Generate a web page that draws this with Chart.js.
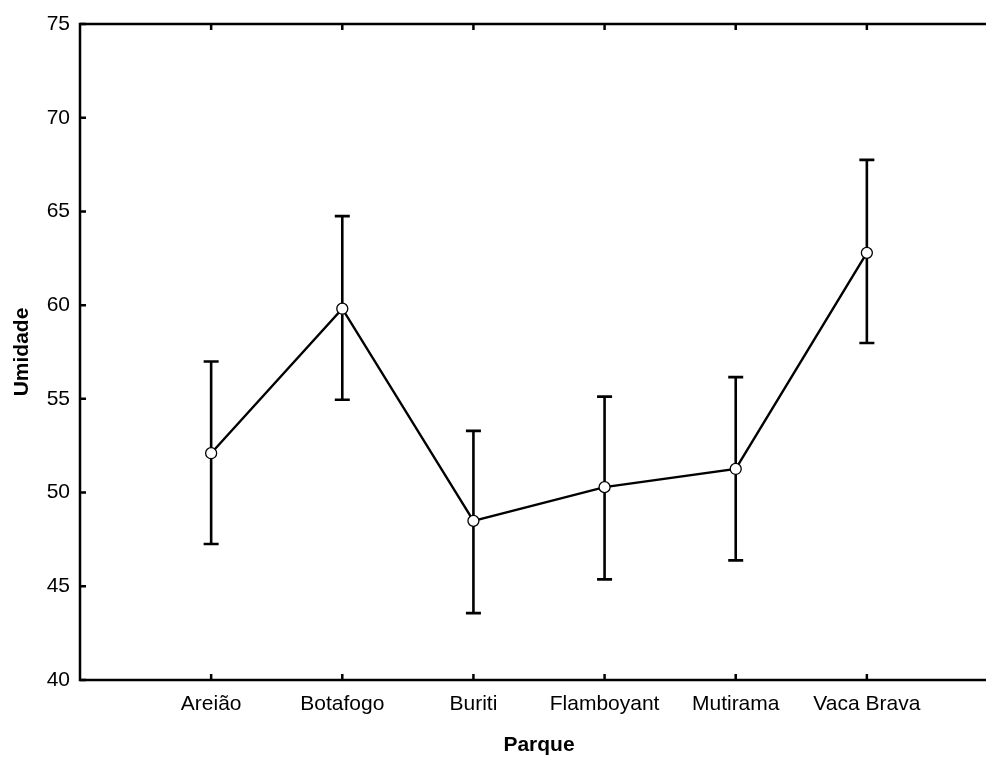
<!DOCTYPE html>
<html><head><meta charset="utf-8">
<script src="https://cdn.jsdelivr.net/npm/chart.js@4"></script>
<style>html,body{margin:0;padding:0;background:#fff;overflow:hidden}#wrap{width:1010px;height:758px}</style>
</head><body><div id="wrap"><canvas id="c" width="1010" height="758"></canvas></div>
<script>
const categories = ['Areião','Botafogo','Buriti','Flamboyant','Mutirama','Vaca Brava'];
const means = [52.10, 59.81, 48.49, 50.29, 51.26, 62.79];
const upper = [56.99, 64.75, 53.29, 55.12, 56.16, 67.75];
const lower = [47.26, 54.95, 43.57, 45.37, 46.38, 57.98];
const yTicks = [40, 45, 50, 55, 60, 65, 70, 75];
const xTitle = 'Parque';
const yTitle = 'Umidade';

const FONT = "'Liberation Sans', Arial, sans-serif";

const framePlugin = {
  id: 'frame',
  beforeDatasetsDraw(chart) {
    const {ctx, chartArea: a, scales: {x, y}} = chart;
    ctx.save();
    ctx.strokeStyle = '#000';
    ctx.lineWidth = 2.5;
    ctx.strokeRect(a.left, a.top, a.right - a.left, a.bottom - a.top);
    ctx.beginPath();
    yTicks.forEach(v => {
      const py = y.getPixelForValue(v);
      ctx.moveTo(a.left, py); ctx.lineTo(a.left + 6, py);
      ctx.moveTo(a.right, py); ctx.lineTo(a.right - 6, py);
    });
    categories.forEach((c, i) => {
      const px = x.getPixelForValue(i + 1);
      ctx.moveTo(px, a.bottom); ctx.lineTo(px, a.bottom - 6);
      ctx.moveTo(px, a.top); ctx.lineTo(px, a.top + 6);
    });
    ctx.stroke();
    // error bars
    ctx.lineWidth = 2.6;
    ctx.beginPath();
    categories.forEach((c, i) => {
      const px = x.getPixelForValue(i + 1);
      const pu = y.getPixelForValue(upper[i]);
      const pl = y.getPixelForValue(lower[i]);
      ctx.moveTo(px, pu); ctx.lineTo(px, pl);
      ctx.moveTo(px - 7.5, pu); ctx.lineTo(px + 7.5, pu);
      ctx.moveTo(px - 7.5, pl); ctx.lineTo(px + 7.5, pl);
    });
    ctx.stroke();
    ctx.restore();
  }
};

new Chart(document.getElementById('c'), {
  type: 'line',
  data: {
    datasets: [{
      data: means.map((m, i) => ({x: i + 1, y: m})),
      borderColor: '#000',
      borderWidth: 2.4,
      pointRadius: 5.5,
      pointBorderWidth: 1.3,
      pointBackgroundColor: '#fff',
      pointBorderColor: '#000',
      tension: 0
    }]
  },
  options: {
    responsive: false,
    animation: false,
    layout: {padding: {left: 0, top: 24, right: 12, bottom: 0}},
    plugins: {legend: {display: false}, tooltip: {enabled: false}},
    scales: {
      x: {
        type: 'linear', min: 0, max: 7,
        grid: {display: false, drawTicks: false},
        border: {display: false},
        afterBuildTicks: s => { s.ticks = categories.map((c, i) => ({value: i + 1})); },
        afterFit: s => { s.height = 78; },
        ticks: {
          autoSkip: false, maxRotation: 0, color: '#000', padding: 12,
          font: {family: FONT, size: 21},
          callback: v => categories[v - 1] || ''
        },
        title: {display: true, text: xTitle, color: '#000', font: {family: FONT, size: 21, weight: 'bold'}, padding: {top: 10, bottom: 0}}
      },
      y: {
        min: 40, max: 75,
        grid: {display: false, drawTicks: false},
        border: {display: false},
        afterBuildTicks: s => { s.ticks = yTicks.map(v => ({value: v})); },
        afterFit: s => { s.width = 80; },
        ticks: {color: '#000', padding: 10, font: {family: FONT, size: 21}},
        title: {display: true, text: yTitle, color: '#000', font: {family: FONT, size: 21, weight: 'bold'}, padding: {top: 10, bottom: 0}}
      }
    }
  },
  plugins: [framePlugin]
});
</script>
</body></html>
